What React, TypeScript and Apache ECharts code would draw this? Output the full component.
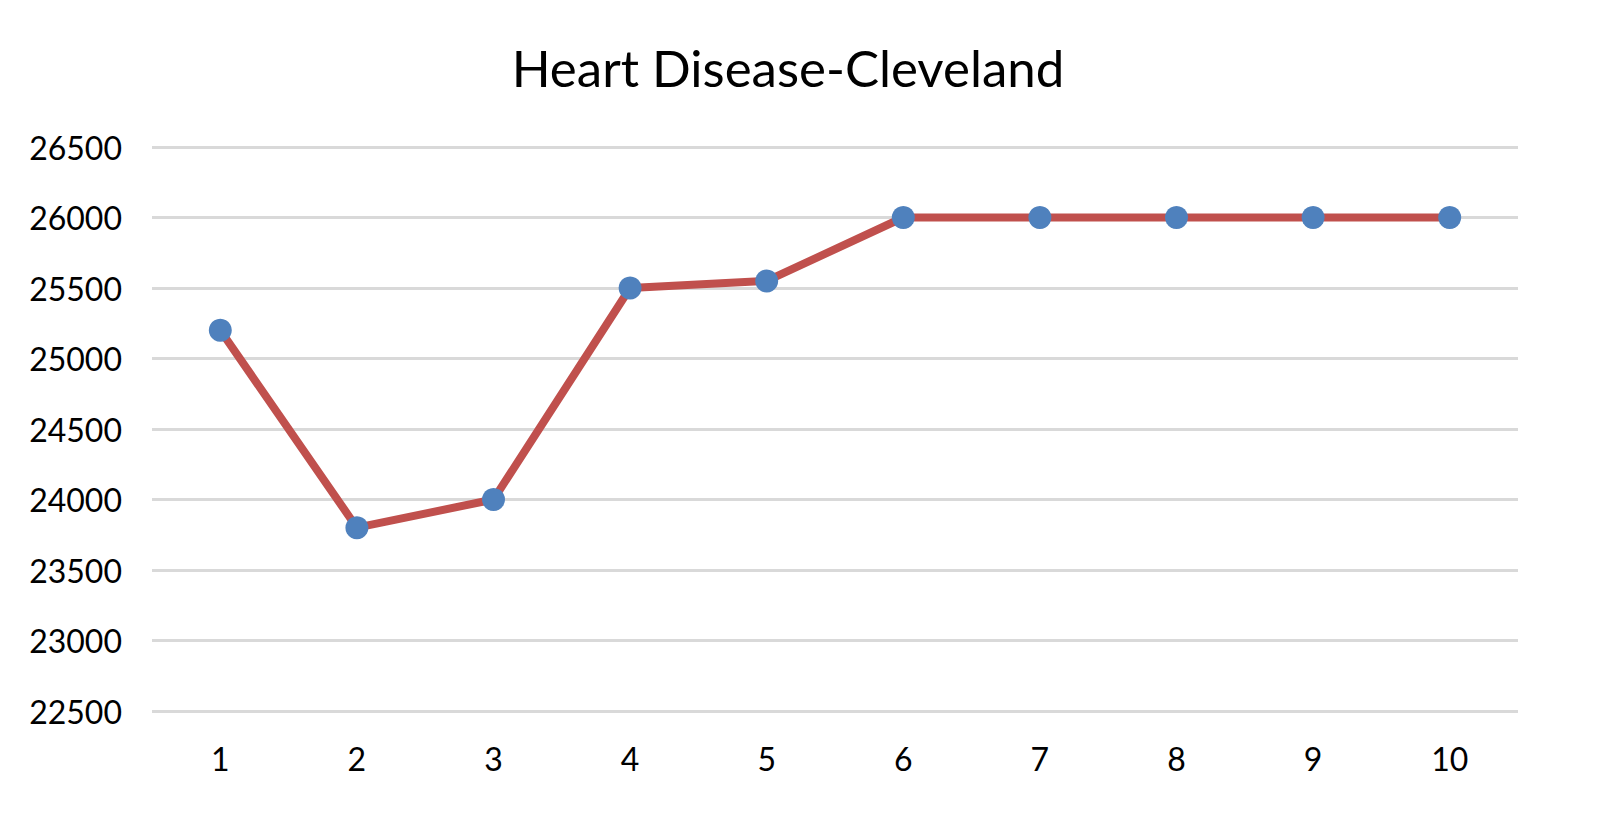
import React, { useEffect, useRef } from "react";
import * as echarts from "echarts";

const categories = ["1", "2", "3", "4", "5", "6", "7", "8", "9", "10"];
const values = [25200, 23800, 24000, 25500, 25550, 26000, 26000, 26000, 26000, 26000];
const titleText = "Heart Disease-Cleveland";
const yMin = 22500;
const yMax = 26500;
const yStep = 500;

export default function App() {
  const ref = useRef<HTMLDivElement>(null);
  useEffect(() => {
    if (!ref.current) return;
    const chart = echarts.init(ref.current, null, { renderer: "svg" });
    chart.setOption({
      animation: false,
      backgroundColor: "#ffffff",
      title: {
        text: titleText,
        top: 37,
        left: 783,
        textAlign: "center",
        textStyle: { fontFamily: "Lato", fontSize: 51, fontWeight: "normal", color: "#000000" },
      },
      grid: { left: 152, right: 82, top: 147, bottom: 116 },
      xAxis: {
        type: "category",
        data: categories,
        boundaryGap: true,
        axisLine: { show: false },
        axisTick: { show: false },
        axisLabel: { fontFamily: "Lato", fontSize: 32, color: "#000000", margin: 31 },
      },
      yAxis: {
        type: "value",
        min: yMin,
        max: yMax,
        interval: yStep,
        axisLine: { show: false },
        axisTick: { show: false },
        axisLabel: {
          fontFamily: "Lato",
          fontSize: 32,
          color: "#000000",
          margin: 30,
          formatter: (v: number) => String(v),
        },
        splitLine: { lineStyle: { color: "#D9D9D9", width: 3 } },
      },
      series: [
        {
          type: "line",
          data: values,
          lineStyle: { color: "#C0504D", width: 8 },
          itemStyle: { color: "#4F81BD" },
          symbol: "circle",
          symbolSize: 23,
        },
      ],
    });
    return () => chart.dispose();
  }, []);
  return <div ref={ref} style={{ position: "fixed", left: 0, top: 0, width: 1600, height: 827 }} />;
}
